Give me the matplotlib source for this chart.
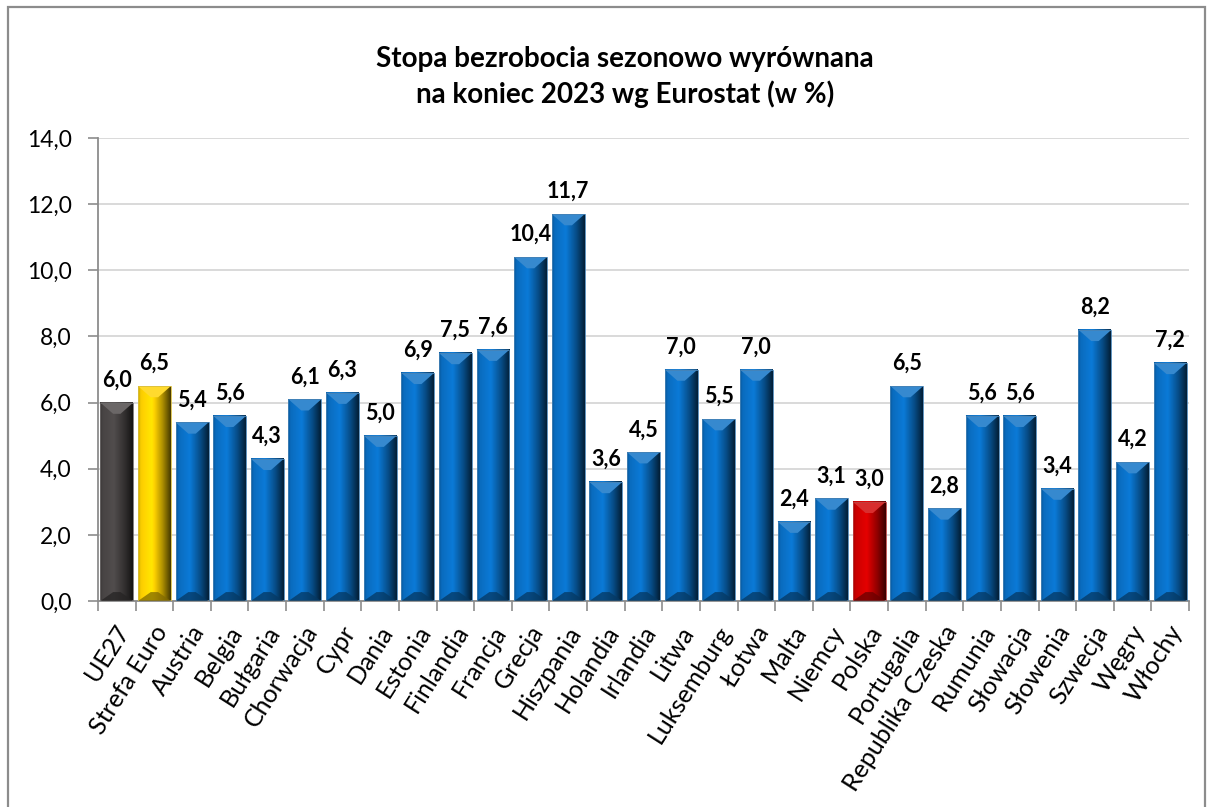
import numpy as np
import matplotlib.pyplot as plt
import matplotlib.colors as mc
from matplotlib.patches import Polygon, Rectangle

plt.rcParams['font.family'] = ['Lato', 'DejaVu Sans']

countries = ['UE27', 'Strefa Euro', 'Austria', 'Belgia', 'Bułgaria', 'Chorwacja', 'Cypr',
             'Dania', 'Estonia', 'Finlandia', 'Francja', 'Grecja', 'Hiszpania', 'Holandia',
             'Irlandia', 'Litwa', 'Luksemburg', 'Łotwa', 'Malta', 'Niemcy', 'Polska',
             'Portugalia', 'Republika Czeska', 'Rumunia', 'Słowacja', 'Słowenia', 'Szwecja',
             'Węgry', 'Włochy']
rates = [6.0, 6.5, 5.4, 5.6, 4.3, 6.1, 6.3, 5.0, 6.9, 7.5, 7.6, 10.4, 11.7, 3.6,
         4.5, 7.0, 5.5, 7.0, 2.4, 3.1, 3.0, 6.5, 2.8, 5.6, 5.6, 3.4, 8.2, 4.2, 7.2]

# kolory wyróżnionych słupków
special = {'UE27': '#4a4646', 'Strefa Euro': '#ffd200', 'Polska': '#d00000'}
base_blue = '#0a6fc4'

W, H = 1208, 807
fig = plt.figure(figsize=(W / 100, H / 100), dpi=100)
ax = fig.add_axes([98 / W, 1 - 601 / H, (1189 - 98) / W, (601 - 138) / H])

# ramka wykresu (dół poza obrazkiem)
fig.patches.append(Rectangle((8 / W, -0.05), (1205 - 8) / W, 1.05 - 7 / H,
                             transform=fig.transFigure, fill=False,
                             edgecolor='#8c8c8c', linewidth=1.6, clip_on=False))

bar_w = 0.875
bevel_h = 0.34
bevel_in = 0.34
bottom_h = 0.27


def gradient(col, n=64):
    pos = np.linspace(0, 1, n)
    f = np.interp(pos, [0, 0.08, 0.42, 0.75, 1.0], [0.8, 0.97, 1.1, 0.68, 0.28])
    img = np.clip(col[None, :] * f[:, None], 0, 1)
    return img[None, :, :]


for i, (name, val) in enumerate(zip(countries, rates)):
    col = np.array(mc.to_rgb(special.get(name, base_blue)))
    left, right = i - bar_w / 2, i + bar_w / 2
    ax.imshow(gradient(col), extent=[left, right, 0, val], aspect='auto',
              interpolation='bilinear', zorder=2)
    top = Polygon([(left, val), (right, val), (right - bevel_in, val - bevel_h),
                   (left + bevel_in, val - bevel_h)], closed=True,
                  facecolor=np.clip(col * 0.7 + 0.3, 0, 1) * 0.6 + col * 0.4,
                  edgecolor='none', zorder=3)
    ax.add_patch(top)
    bot = Polygon([(left, 0), (right, 0), (right - bevel_in, bottom_h),
                   (left + bevel_in, bottom_h)], closed=True,
                  facecolor=col * 0.5, edgecolor='none', zorder=3, alpha=0.75)
    ax.add_patch(bot)
    ax.add_patch(Rectangle((left, 0), bar_w, val, fill=False,
                           edgecolor=np.clip(col * 0.6 + 0.25, 0, 1), linewidth=0.6, zorder=4))
    ax.annotate(f'{val:.1f}'.replace('.', ','), (i, val), xytext=(0, 11.5),
                textcoords='offset points', ha='center', va='baseline',
                fontsize=15.5, fontweight='bold', color='black', zorder=5)

ax.set_xlim(-0.5, len(countries) - 0.5)
ax.set_ylim(0, 14)

yt = np.arange(0, 14.1, 2)
ax.set_yticks(yt)
ax.set_yticklabels([f'{v:.1f}'.replace('.', ',') for v in yt], fontsize=16.5)
ax.tick_params(axis='y', length=7, width=1.2, color='#8c8c8c', pad=12)
ax.yaxis.grid(True, color='#d9d9d9', linewidth=1.4, zorder=0)
ax.set_axisbelow(True)

ax.set_xticks(np.arange(len(countries)) + 0.2)
ax.set_xticklabels(countries, rotation=57.5, ha='right', va='center',
                   rotation_mode='anchor', fontsize=18)
ax.tick_params(axis='x', which='major', length=0, pad=19)
ax.set_xticks(np.arange(-0.5, len(countries)), minor=True)
ax.tick_params(axis='x', which='minor', length=7, width=1.2, color='#8c8c8c')

for s in ['top', 'right']:
    ax.spines[s].set_visible(False)
for s in ['left', 'bottom']:
    ax.spines[s].set_color('#8c8c8c')
    ax.spines[s].set_linewidth(1.3)

fig.text(625 / W, 1 - 77 / H, 'Stopa bezrobocia sezonowo wyrównana\nna koniec 2023 wg Eurostat (w %)',
         ha='center', va='center', fontsize=20, fontweight='bold', linespacing=1.35)

fig.savefig('out.png', dpi=100)
